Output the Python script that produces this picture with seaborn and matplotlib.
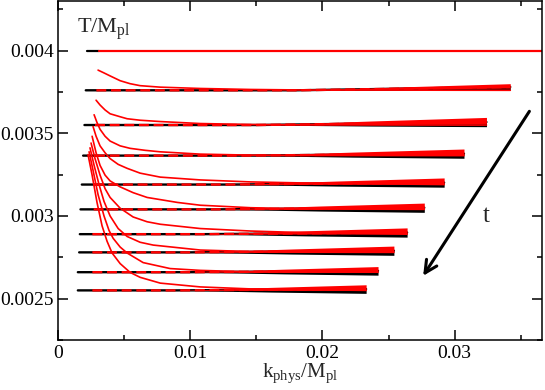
import matplotlib
matplotlib.use("Agg")
import matplotlib.pyplot as plt
import seaborn as sns
import pandas as pd

# plateau levels T/M_pl (top one is the initial temperature)
level_T = [0.004, 0.00376, 0.00355, 0.003365, 0.00319, 0.00304, 0.00289, 0.00278, 0.00266, 0.00255]
black_start = [0.0022, 0.0021, 0.0020, 0.0019, 0.0018, 0.0017, 0.00165, 0.0016, 0.0015, 0.0015]
red_start = [0.0031, 0.0029, 0.0028, 0.0028, 0.0027, 0.0027, 0.0026, 0.0026, 0.0026, 0.0026]
level_end = [0.0366, 0.0342, 0.0324, 0.0307, 0.0292, 0.0277, 0.0264, 0.0254, 0.0242, 0.0233]
noise_start = [0.0366, 0.018, 0.015, 0.014, 0.013, 0.012, 0.011, 0.010, 0.010, 0.009]
noise_amp = [0.0, 0.00002, 0.000028, 0.000028, 0.000028, 0.000028, 0.000028, 0.000028, 0.000026, 0.000026]
end_rise = [0.0, 0.00002, 0.000018, 0.000012, 0.000012, 0.00001, 0.00001, 0.00001, 0.000008, 0.000008]

# decaying red curves (one per plateau 1..9)
curve_k = [
    [0.00303, 0.00348, 0.00394, 0.00470, 0.00545, 0.00621, 0.00773, 0.01076, 0.01455, 0.01833, 0.0342],
    [0.00288, 0.00318, 0.00356, 0.00394, 0.00470, 0.00523, 0.00621, 0.00773, 0.01076, 0.01455, 0.01833, 0.0324],
    [0.00273, 0.00295, 0.00318, 0.00356, 0.00394, 0.00470, 0.00545, 0.00659, 0.00773, 0.01076, 0.01455, 0.01833, 0.0307],
    [0.00265, 0.00288, 0.00318, 0.00356, 0.00394, 0.00455, 0.00523, 0.00621, 0.00773, 0.01076, 0.01455, 0.01833, 0.0292],
    [0.00258, 0.00288, 0.00318, 0.00356, 0.00394, 0.00470, 0.00568, 0.00674, 0.00902, 0.01076, 0.01455, 0.01833, 0.0277],
    [0.00250, 0.00280, 0.00318, 0.00356, 0.00394, 0.00470, 0.00568, 0.00674, 0.00773, 0.01076, 0.01455, 0.01833, 0.0264],
    [0.00242, 0.00273, 0.00311, 0.00348, 0.00394, 0.00455, 0.00523, 0.00621, 0.00720, 0.01076, 0.01455, 0.01833, 0.0254],
    [0.00235, 0.00265, 0.00303, 0.00348, 0.00386, 0.00417, 0.00470, 0.00523, 0.00644, 0.00848, 0.01076, 0.01455, 0.0242],
    [0.00227, 0.00258, 0.00295, 0.00333, 0.00371, 0.00409, 0.00470, 0.00545, 0.00621, 0.00773, 0.01076, 0.01455, 0.0233],
]
curve_T = [
    [0.003882, 0.003865, 0.003847, 0.003818, 0.003800, 0.003788, 0.003779, 0.003771, 0.003765, 0.003762, 0.00376],
    [0.003700, 0.003671, 0.003641, 0.003618, 0.003600, 0.003588, 0.003579, 0.003571, 0.003559, 0.003553, 0.003551, 0.00355],
    [0.003612, 0.003565, 0.003524, 0.003482, 0.003453, 0.003424, 0.003409, 0.003397, 0.003388, 0.003374, 0.003368, 0.003366, 0.003365],
    [0.003541, 0.003482, 0.003424, 0.003382, 0.003347, 0.003312, 0.003288, 0.003259, 0.003235, 0.003218, 0.003206, 0.003200, 0.00319],
    [0.003482, 0.003382, 0.003306, 0.003247, 0.003212, 0.003176, 0.003141, 0.003112, 0.003082, 0.003065, 0.003050, 0.003043, 0.00304],
    [0.003441, 0.003347, 0.003247, 0.003165, 0.003112, 0.003047, 0.002994, 0.002965, 0.002950, 0.002924, 0.002909, 0.002900, 0.00289],
    [0.003412, 0.003306, 0.003188, 0.003088, 0.003000, 0.002924, 0.002876, 0.002841, 0.002824, 0.002794, 0.002785, 0.002781, 0.00278],
    [0.003388, 0.003276, 0.003129, 0.003000, 0.002912, 0.002865, 0.002812, 0.002776, 0.002718, 0.002682, 0.002671, 0.002662, 0.00266],
    [0.003371, 0.003247, 0.003082, 0.002941, 0.002847, 0.002776, 0.002712, 0.002659, 0.002629, 0.002594, 0.002571, 0.002559, 0.00255],
]

x_ticks = [0, 0.01, 0.02, 0.03]
x_labels = ["0", "0.01", "0.02", "0.03"]
y_ticks = [0.0025, 0.003, 0.0035, 0.004]
y_labels = ["0.0025", "0.003", "0.0035", "0.004"]

sns.set_theme(style="ticks")
plt.rcParams["font.family"] = ["Liberation Serif", "DejaVu Serif"]
plt.rcParams["mathtext.fontset"] = "custom"
plt.rcParams["mathtext.rm"] = "Liberation Serif"
plt.rcParams["mathtext.it"] = "Liberation Serif:italic"

fig = plt.figure(figsize=(5.45, 3.9), dpi=100)
ax = fig.add_axes([58 / 545, 50 / 390, 484 / 545, 339 / 390])

for i, T in enumerate(level_T):
    if i == 0:
        sns.lineplot(x=[black_start[i], red_start[i]], y=[T, T], color="black", lw=1.6, ax=ax)
        sns.lineplot(x=[red_start[i], level_end[i]], y=[T, T], color="red", lw=1.6, ax=ax)
        continue
    ks = [black_start[i], noise_start[i], level_end[i]]
    Ts = [T, T, T + end_rise[i]]
    sns.lineplot(x=ks, y=Ts, color="black", lw=1.7, ax=ax, sort=False, estimator=None)
    # noisy tail: black spikes below, red on top
    nk = [noise_start[i], (noise_start[i] + level_end[i]) / 2, level_end[i]]
    nT = [T, T + end_rise[i] / 2, T + end_rise[i]]
    na = [0.0, noise_amp[i] * 0.55, noise_amp[i]]
    ax.fill_between(nk, [t - a for t, a in zip(nT, na)], nT, color="black", lw=0, zorder=3)
    ax.fill_between(nk, [t - 0.3 * a for t, a in zip(nT, na)], [t + a for t, a in zip(nT, na)],
                    color="red", lw=0, zorder=4)
    ax.plot([red_start[i], noise_start[i], level_end[i]], [T, T, T + end_rise[i]],
            color="red", lw=1.7, linestyle=(0, (4.2, 2.0)), zorder=4)

for ks, Ts in zip(curve_k, curve_T):
    df = pd.DataFrame({"k": ks, "T": Ts})
    sns.lineplot(data=df, x="k", y="T", color="red", lw=1.2, ax=ax, sort=False, estimator=None, zorder=5)

ax.annotate("", xy=(0.0275, 0.002624), xytext=(0.03576, 0.003647),
            arrowprops=dict(arrowstyle="->", color="black", lw=2.2, mutation_scale=22))
ax.text(0.0324, 0.00300, "t", fontsize=18, ha="center", va="center")
ax.text(0.0014, 0.00413, r"T/M$_{\rm pl}$", fontsize=16, ha="left", va="center")

ax.set_xlim(0, 0.0366)
ax.set_ylim(0.0023, 0.0043)
ax.set_xticks(x_ticks)
ax.set_xticklabels(x_labels, fontsize=14)
ax.set_yticks(y_ticks)
ax.set_yticklabels(y_labels, fontsize=14)
ax.set_xticks([0.005, 0.015, 0.025, 0.035], minor=True)
ax.set_yticks([0.00225 + 0.0005 * j for j in range(5)], minor=True)
ax.tick_params(which="both", direction="in", top=True, right=True, width=1.1, colors="black")
ax.tick_params(axis="y", pad=3)
ax.tick_params(which="major", length=7)
ax.tick_params(which="minor", length=3.5)
for s in ax.spines.values():
    s.set_linewidth(1.1)
    s.set_color("black")
ax.set_xlabel(r"k$_{\rm phys}$/M$_{\rm pl}$", fontsize=15, labelpad=0)
ax.set_ylabel("")

fig.savefig("out.png", dpi=100)
